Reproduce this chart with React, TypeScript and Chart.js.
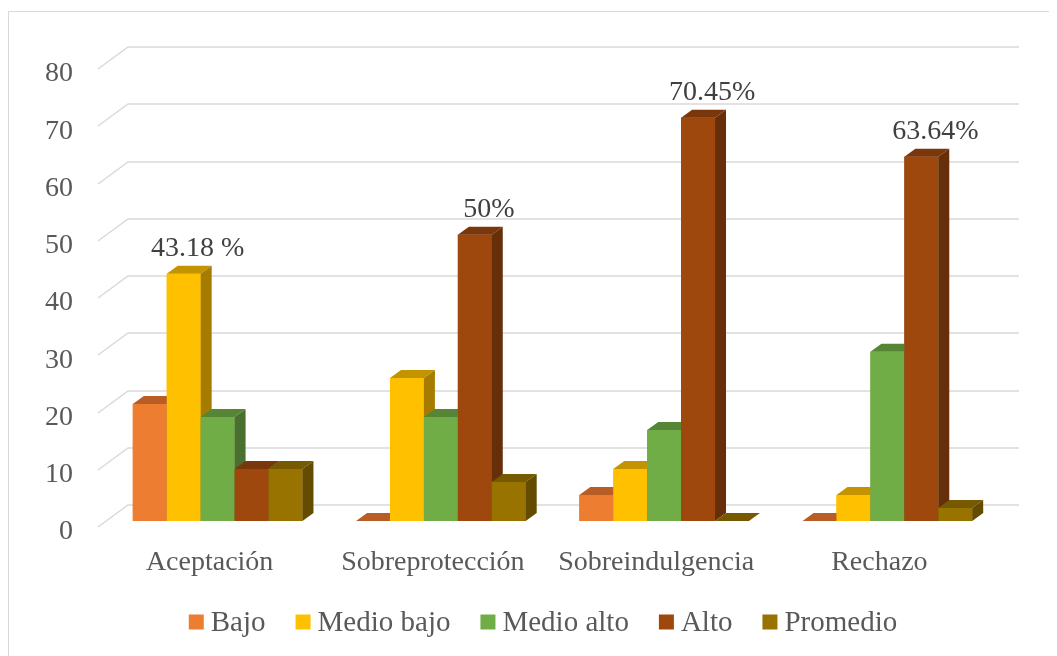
import React, { useEffect, useRef } from "react";
import { Chart, registerables } from "chart.js";

Chart.register(...registerables);

const categories = ["Aceptación", "Sobreprotección", "Sobreindulgencia", "Rechazo"];
const seriesNames = ["Bajo", "Medio bajo", "Medio alto", "Alto", "Promedio"];
const bajo = [20.45, 0, 4.55, 0];
const medioBajo = [43.18, 25, 9.09, 4.55];
const medioAlto = [18.18, 18.18, 15.91, 29.55];
const alto = [9.09, 50, 70.45, 63.64];
const promedio = [9.09, 6.82, 0, 2.27];
const bajoLabels = ["", "", "", ""];
const medioBajoLabels = ["43.18 %", "", "", ""];
const medioAltoLabels = ["", "", "", ""];
const altoLabels = ["", "50%", "70.45%", "63.64%"];
const promedioLabels = ["", "", "", ""];
const yMin = 0;
const yMax = 80;
const yStep = 10;

const frontColors = ["#ED7D31", "#FFC000", "#70AD47", "#9E480E", "#997300"];
const topColors = ["#B85D26", "#C49400", "#568536", "#7A370B", "#765900"];
const sideColors = ["#9A4E20", "#A67C00", "#49702E", "#672F09", "#634B00"];

const FONT = '"Liberation Serif", "Times New Roman", serif';
const DX = 11;
const DY = 8;

const threeDPlugin = {
  id: "threeD",
  beforeDatasetsDraw(chart: any) {
    const { ctx, chartArea, scales } = chart;
    const y = scales.y;
    ctx.save();
    ctx.strokeStyle = "#D9D9D9";
    ctx.lineWidth = 1.5;
    for (const t of y.ticks) {
      const yb = Math.round(y.getPixelForValue(t.value));
      ctx.beginPath();
      ctx.moveTo(chartArea.left - 8, yb + 6);
      ctx.lineTo(chartArea.left + 22, yb - 16);
      ctx.lineTo(chartArea.right + 20, yb - 16);
      ctx.stroke();
    }
    ctx.restore();
  },
  afterDatasetsDraw(chart: any) {
    const { ctx } = chart;
    const n = chart.data.labels.length;
    const dsCount = chart.data.datasets.length;
    ctx.save();
    for (let c = 0; c < n; c++) {
      for (let i = 0; i < dsCount; i++) {
        const meta = chart.getDatasetMeta(i);
        const bar = meta.data[c];
        if (!bar) continue;
        const { x, y, base, width } = bar.getProps(["x", "y", "base", "width"], true);
        const l = x - width / 2;
        const r = x + width / 2;
        ctx.fillStyle = frontColors[i];
        ctx.fillRect(l, y, width, base - y);
        ctx.fillStyle = topColors[i];
        ctx.beginPath();
        ctx.moveTo(l, y);
        ctx.lineTo(l + DX, y - DY);
        ctx.lineTo(r + DX, y - DY);
        ctx.lineTo(r, y);
        ctx.closePath();
        ctx.fill();
        ctx.fillStyle = sideColors[i];
        ctx.beginPath();
        ctx.moveTo(r, y);
        ctx.lineTo(r + DX, y - DY);
        ctx.lineTo(r + DX, base - DY);
        ctx.lineTo(r, base);
        ctx.closePath();
        ctx.fill();
      }
    }
    // value labels
    ctx.fillStyle = "#404040";
    ctx.font = `28px ${FONT}`;
    ctx.textAlign = "center";
    ctx.textBaseline = "middle";
    chart.data.datasets.forEach((ds: any, i: number) => {
      const meta = chart.getDatasetMeta(i);
      (ds.valueLabels || []).forEach((txt: string, c: number) => {
        if (!txt) return;
        const bar = meta.data[c];
        const { x, y } = bar.getProps(["x", "y"], true);
        ctx.fillText(txt, x + 14, y - 25);
      });
    });
    ctx.restore();
  },
  afterDraw(chart: any) {
    const { ctx } = chart;
    ctx.save();
    ctx.font = `29px ${FONT}`;
    ctx.textBaseline = "middle";
    ctx.textAlign = "left";
    const box = 15;
    const gapText = 7;
    const gapItem = 30;
    const names: string[] = chart.data.datasets.map((d: any) => d.label);
    const widths = names.map((s) => ctx.measureText(s).width);
    let total = 0;
    widths.forEach((w, i) => {
      total += box + gapText + w + (i < widths.length - 1 ? gapItem : 0);
    });
    let x = 534 - total / 2;
    const cy = 610;
    names.forEach((s, i) => {
      ctx.fillStyle = frontColors[i];
      ctx.fillRect(x, cy - box / 2, box, box);
      ctx.fillStyle = "#595959";
      ctx.fillText(s, x + box + gapText, cy + 1);
      x += box + gapText + widths[i] + gapItem;
    });
    ctx.restore();
  },
};

export default function App() {
  const canvasRef = useRef<HTMLCanvasElement | null>(null);

  useEffect(() => {
    if (!canvasRef.current) return;
    const seriesValues = [bajo, medioBajo, medioAlto, alto, promedio];
    const seriesLabels = [bajoLabels, medioBajoLabels, medioAltoLabels, altoLabels, promedioLabels];
    const chart = new Chart(canvasRef.current, {
      type: "bar",
      data: {
        labels: categories,
        datasets: seriesNames.map((name, i) => ({
          label: name,
          data: seriesValues[i],
          backgroundColor: frontColors[i],
          borderWidth: 0,
          barPercentage: 1,
          categoryPercentage: 0.76,
          valueLabels: seriesLabels[i],
        })) as any,
      },
      options: {
        responsive: false,
        animation: false,
        devicePixelRatio: 1,
        layout: { padding: { left: 0, top: 51, right: 58, bottom: 0 } },
        plugins: {
          legend: { display: false },
          tooltip: { enabled: false },
          title: { display: false },
        },
        scales: {
          x: {
            grid: { display: false, drawTicks: false },
            border: { display: false },
            ticks: {
              color: "#595959",
              font: { family: FONT, size: 28 },
              padding: 25,
              labelOffset: -8,
              maxRotation: 0,
              autoSkip: false,
            },
            afterFit(scale: any) {
              scale.height = 135;
            },
          },
          y: {
            min: yMin,
            max: yMax,
            grid: { display: false, drawTicks: false },
            border: { display: false },
            ticks: {
              stepSize: yStep,
              color: "#595959",
              font: { family: FONT, size: 28 },
              padding: 33,
              labelOffset: 11,
            },
            afterFit(scale: any) {
              scale.width = 97;
            },
          },
        },
      },
      plugins: [threeDPlugin],
    });
    return () => chart.destroy();
  }, []);

  return (
    <div>
      <div style={{ height: 3 }} />
      <div
        style={{
          width: 1048,
          height: 644,
          borderTop: "1px solid #D9D9D9",
          borderLeft: "1px solid #D9D9D9",
          overflow: "hidden",
        }}
      >
        <canvas ref={canvasRef} width={1048} height={644} style={{ display: "block" }} />
      </div>
    </div>
  );
}
